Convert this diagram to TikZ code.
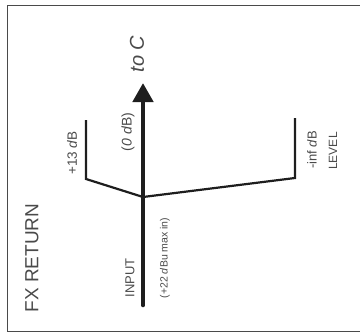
\documentclass[tikz,border=0pt]{standalone}
\usepackage{fontspec}
\setmainfont{Liberation Sans}
\usetikzlibrary{arrows.meta}
\definecolor{ink}{HTML}{1E1E1E}
\definecolor{txt}{HTML}{4A4A4A}
\begin{document}
\begin{tikzpicture}[x=1pt,y=-1pt,
  lbl/.style={rotate=90, inner sep=0pt, text=txt, anchor=center},
  branch/.style={draw=ink, line width=2.2pt, line join=miter},
  mainline/.style={draw=ink, line width=4.6pt, line cap=round, -{Triangle[width=20pt,length=19pt]}},
  frame/.style={draw=txt, line width=1.6pt}]
\useasboundingbox (0,0) rectangle (360,333);
\draw[frame] (370,5.5) -- (7.5,5.5) -- (7.5,331.5) -- (370,331.5);
% coordinates
\coordinate (in) at (143,305);
\coordinate (j) at (143,197);
\coordinate (tip) at (143,83);
\coordinate (lc) at (86,179);
\coordinate (lt) at (86,120);
\coordinate (rc) at (295,178);
\coordinate (rt) at (295,118);
% branches
\draw[branch] (lt) -- (lc) -- (j) -- (rc) -- (rt);
% main signal
\draw[mainline] (in) -- (tip);
% labels
\node[lbl, font=\fontsize{19}{19}\selectfont] (title) at (32,258) {FX RETURN};
\node[lbl, font=\fontsize{13}{13}\selectfont] (input) at (130,278) {INPUT};
\node[lbl, font=\fontsize{10.5}{10.5}\selectfont] (max) at (165,258) {(+22 \textit{d}Bu max in)};
\node[lbl, font=\fontsize{13.5}{13.5}\selectfont] (hi) at (72,153) {+13 \textit{d}B};
\node[lbl, font=\fontsize{14}{14}\selectfont] (zero) at (128,132) {(\textit{0 d}B)};
\node[lbl, font=\fontsize{20}{20}\selectfont\itshape] (toc) at (137,54) {to C};
\node[lbl, font=\fontsize{13}{13}\selectfont] (lo) at (312,150) {-inf \textit{d}B};
\node[lbl, font=\fontsize{12}{12}\selectfont] (level) at (333,151) {LEVEL};
\end{tikzpicture}
\end{document}
